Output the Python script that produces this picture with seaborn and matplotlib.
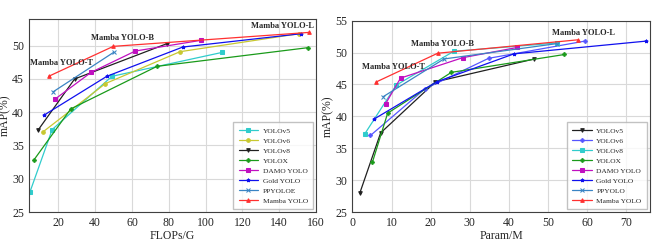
import matplotlib
matplotlib.use("Agg")
import matplotlib.pyplot as plt
import seaborn as sns

# ---- datos: FLOPs/G vs mAP (izquierda) ----
flops_v5 = [4.5, 16.6, 49.1, 109.1]
map_v5_l = [28.0, 37.4, 45.4, 49.0]
flops_v6 = [11.4, 45.5, 86.1, 150.7]
map_v6_l = [37.0, 44.3, 49.1, 51.8]
flops_v8 = [8.9, 28.8, 78.9]
map_v8_l = [37.3, 45.0, 50.3]
flops_x = [6.6, 26.7, 73.6, 155.5]
map_x_l = [32.8, 40.5, 46.9, 49.7]
flops_damo = [18.3, 37.8, 61.8, 97.3]
map_damo_l = [42.0, 46.0, 49.2, 50.8]
flops_gold = [12.4, 46.3, 87.6, 151.8]
map_gold_l = [39.6, 45.4, 49.8, 51.8]
flops_pp = [17.3, 50.0]
map_pp_l = [43.1, 49.0]
flops_mamba = [14.7, 49.8, 156.3]
map_mamba_l = [45.4, 49.9, 52.0]

# ---- datos: Param/M vs mAP (derecha) ----
param_v5 = [1.9, 7.2, 21.2, 46.5]
map_v5_r = [28.0, 37.4, 45.4, 49.0]
param_v6 = [4.6, 18.5, 34.8, 59.4]
map_v6_r = [37.0, 44.3, 49.1, 51.8]
param_v8 = [3.2, 11.2, 25.9, 52.2]
map_v8_r = [37.3, 44.9, 50.2, 51.5]
param_x = [5.1, 9.0, 25.3, 54.2]
map_x_r = [32.8, 40.5, 46.9, 49.7]
param_damo = [8.5, 12.3, 28.2, 42.1]
map_damo_r = [42.0, 46.0, 49.2, 50.8]
param_gold = [5.6, 21.5, 41.3, 75.1]
map_gold_r = [39.6, 45.4, 49.8, 51.8]
param_pp = [7.9, 23.4, 52.2]
map_pp_r = [43.1, 49.0, 51.4]
param_mamba = [6.1, 21.8, 57.6]
map_mamba_r = [45.4, 49.9, 52.0]

etiquetas = ["Mamba YOLO-T", "Mamba YOLO-B", "Mamba YOLO-L"]

sns.set_style("whitegrid", {"axes.edgecolor": "0.25", "grid.color": "0.85"})
plt.rcParams['font.family'] = ['Liberation Serif', 'DejaVu Serif']

fig = plt.figure(figsize=(6.65, 2.47), dpi=100)
ax1 = fig.add_axes([0.0436, 0.1417, 0.4316, 0.781])
ax2 = fig.add_axes([0.530, 0.1417, 0.447, 0.7745])

izq = [
    ("YOLOv5", flops_v5, map_v5_l, "#30cccc", "s"),
    ("YOLOv6", flops_v6, map_v6_l, "#c8c830", "o"),
    ("YOLOv8", flops_v8, map_v8_l, "#202020", "v"),
    ("YOLOX", flops_x, map_x_l, "#1a9a1a", "P"),
    ("DAMO YOLO", flops_damo, map_damo_l, "#c010c0", "s"),
    ("Gold YOLO", flops_gold, map_gold_l, "#1010ee", "*"),
    ("PPYOLOE", flops_pp, map_pp_l, "#3a84c4", "x"),
    ("Mamba YOLO", flops_mamba, map_mamba_l, "#ff3030", "^"),
]
der = [
    ("YOLOv5", param_v5, map_v5_r, "#202020", "v"),
    ("YOLOv6", param_v6, map_v6_r, "#5555ff", "P"),
    ("YOLOv8", param_v8, map_v8_r, "#30cccc", "s"),
    ("YOLOX", param_x, map_x_r, "#1a9a1a", "P"),
    ("DAMO YOLO", param_damo, map_damo_r, "#c010c0", "s"),
    ("Gold YOLO", param_gold, map_gold_r, "#1010ee", "*"),
    ("PPYOLO", param_pp, map_pp_r, "#3a84c4", "x"),
    ("Mamba YOLO", param_mamba, map_mamba_r, "#ff3030", "^"),
]

for ax, series in [(ax1, izq), (ax2, der)]:
    for nombre, xs, ys, col, mk in series:
        sns.lineplot(x=xs, y=ys, ax=ax, color=col, marker=mk, markersize=2.6,
                     markeredgecolor=col, linewidth=0.9, sort=False, label=nombre)
    ax.tick_params(labelsize=8.5, length=2, pad=1.5)
    ax.set_ylabel("mAP(%)", fontsize=8.5, labelpad=1)
    ax.legend(loc="lower right", fontsize=5.4, frameon=True, fancybox=False,
              edgecolor="0.7", handlelength=2.6, labelspacing=0.5,
              borderpad=0.7, borderaxespad=0.4, handletextpad=0.6)

# anotaciones
pos_izq = [(21.8, 47.4), (55.0, 51.1), (141.6, 53.0)]
pos_der = [(10.4, 47.7), (23.1, 51.3), (59.0, 53.0)]
for ax, posiciones in [(ax1, pos_izq), (ax2, pos_der)]:
    for txt, (x, y) in zip(etiquetas, posiciones):
        ax.text(x, y, txt, ha="center", va="center", fontsize=6.0, fontweight="bold")

ax1.set_xlim(4, 160)
ax1.set_ylim(25, 54)
ax1.set_xticks(range(20, 161, 20))
ax1.set_yticks(range(25, 51, 5))
ax1.set_xlabel("FLOPs/G", fontsize=8.5, labelpad=1)

ax2.set_xlim(0, 76)
ax2.set_ylim(25, 55)
ax2.set_xticks(range(0, 71, 10))
ax2.set_yticks(range(25, 56, 5))
ax2.set_xlabel("Param/M", fontsize=8.5, labelpad=1)

fig.savefig("out.png", dpi=100)
